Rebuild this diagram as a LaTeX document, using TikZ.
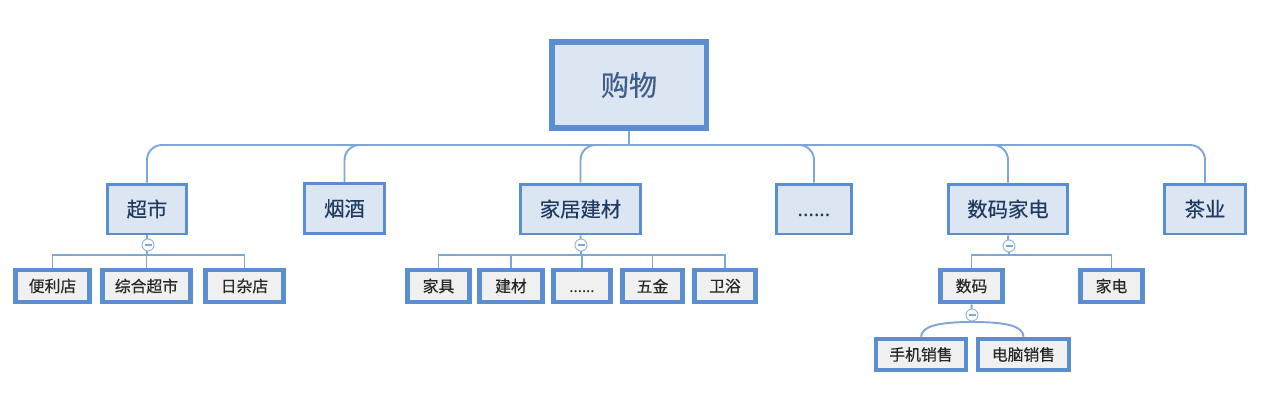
\documentclass[tikz,border=0pt]{standalone}
\usepackage{fontspec}
\newfontfamily\cjk[FakeBold=0.35]{Noto Sans CJK SC}
\newfontfamily\latin{Noto Sans}
\usetikzlibrary{positioning, calc}

\definecolor{boxline}{HTML}{5A8ED0}
\definecolor{wire}{HTML}{7FA6D8}
\definecolor{topicfill}{HTML}{DCE6F2}
\definecolor{leaffill}{HTML}{F0F0F0}
\definecolor{topictext}{HTML}{1F3A5F}
\definecolor{roottext}{HTML}{3F5D8A}

\newcommand{\etcdots}{{\latin......}\vphantom{超}}

\tikzset{
  rootbox/.style={draw=boxline, line width=3.4pt, fill=topicfill,
    text=roottext, inner sep=0pt, minimum width=3.1cm, minimum height=1.72cm,
    font=\cjk\fontsize{16}{19}\selectfont},
  topicbox/.style={draw=boxline, line width=1.7pt, fill=topicfill,
    text=topictext, inner sep=0pt, minimum height=1.0cm,
    font=\cjk\fontsize{11.6}{14}\selectfont},
  leafbox/.style={draw=boxline, line width=2.6pt, fill=leaffill,
    text=black!85, inner sep=0pt, minimum height=0.64cm,
    font=\cjk\fontsize{9}{11}\selectfont},
  fold/.style={circle, draw=wire!80, fill=white, line width=0.6pt,
    minimum size=0.24cm, inner sep=0pt,
    path picture={\draw[wire, line width=0.7pt]
      ([xshift=-0.07cm]path picture bounding box.center) --
      ([xshift=0.07cm]path picture bounding box.center);}},
  wire/.style={draw=wire, line width=1.1pt}
}

\begin{document}
\begin{tikzpicture}[x=0.02cm, y=-0.02cm]
  \useasboundingbox (0,0) rectangle (1268,406);

  \node[rootbox] (shop) at (629,85) {购物};

  \node[topicbox, minimum width=1.58cm] (super) at (147,209) {超市};
  \node[topicbox, minimum width=1.6cm] (tobacco) at (344.5,208.5) {烟酒};
  \node[topicbox, minimum width=2.4cm] (home) at (580.5,209) {家居建材};
  \node[topicbox, minimum width=1.5cm] (more) at (814,209) {\etcdots};
  \node[topicbox, minimum width=2.38cm] (digital) at (1008,209) {数码家电};
  \node[topicbox, minimum width=1.62cm] (tea) at (1205,209) {茶业};

  \node[leafbox, minimum width=1.48cm] (conv) at (52.5,286) {便利店};
  \node[leafbox, minimum width=1.76cm] (mart) at (146.5,286) {综合超市};
  \node[leafbox, minimum width=1.56cm] (grocery) at (244.5,286) {日杂店};

  \node[leafbox, minimum width=1.24cm] (furniture) at (438.5,286) {家具};
  \node[leafbox, minimum width=1.26cm] (material) at (511,286) {建材};
  \node[leafbox, minimum width=1.14cm] (homemore) at (582,286) {\etcdots};
  \node[leafbox, minimum width=1.2cm] (hardware) at (652.5,286) {五金};
  \node[leafbox, minimum width=1.22cm] (bath) at (725,286) {卫浴};

  \node[leafbox, minimum width=1.24cm] (digi) at (971.5,286) {数码};
  \node[leafbox, minimum width=1.24cm] (appliance) at (1111.5,286) {家电};

  \node[leafbox, minimum width=1.8cm, minimum height=0.62cm] (phone) at (921,354.5) {手机销售};
  \node[leafbox, minimum width=1.82cm, minimum height=0.62cm] (pc) at (1023.5,354.5) {电脑销售};

  % root to topics
  \coordinate (hub) at (629,145);
  \draw[wire] (shop.south) -- (hub);
  \foreach \t in {super, tobacco, home, more, digital, tea}
    \draw[wire, rounded corners=0.3cm] (hub) -| (\t.north);

  % topics to leaves
  \coordinate (bus1) at (147,255);
  \coordinate (bus2) at (581,255);
  \coordinate (bus3) at (1009,255);
  \draw[wire] (super.south) -- (bus1);
  \draw[wire] (home.south) -- (bus2);
  \draw[wire] (digital.south) -- (bus3);
  \foreach \l in {conv, mart, grocery}
    \draw[wire] (bus1) -| (\l.north);
  \foreach \l in {furniture, material, homemore, hardware, bath}
    \draw[wire] (bus2) -| (\l.north);
  \foreach \l in {digi, appliance}
    \draw[wire] (bus3) -| (\l.north);

  \coordinate (arch) at (972,322);
  \draw[wire] (digi.south) -- (arch);
  \draw[wire] (arch) .. controls (935,322) and (922,327) .. (phone.north);
  \draw[wire] (arch) .. controls (1010,322) and (1023,327) .. (pc.north);

  \node[fold] (f1) at (148,245) {};
  \node[fold] (f2) at (581,245) {};
  \node[fold] (f3) at (1009,246) {};
  \node[fold] (f4) at (972,315) {};
\end{tikzpicture}
\end{document}
